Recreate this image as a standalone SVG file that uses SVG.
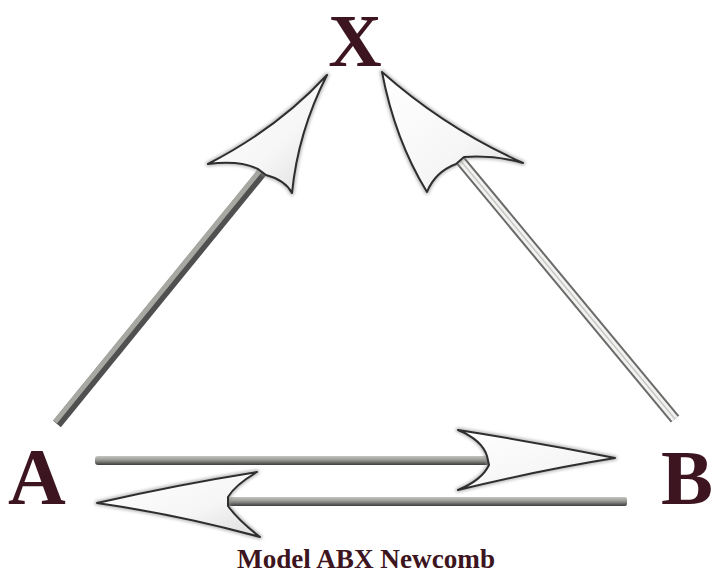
<svg xmlns="http://www.w3.org/2000/svg" width="714" height="575" viewBox="0 0 714 575">
  <style>
    .lbl { font-family: "Liberation Serif", "Times New Roman", serif; font-weight: bold; fill: #3d1520; }
    .head { fill: url(#headGrad); stroke: #2e2e2e; stroke-width: 2; stroke-linejoin: round; }
    .headShadow { fill: none; stroke: #8a8a8a; stroke-width: 5; stroke-linejoin: round; opacity: 0.55; filter: url(#soft); }
  </style>
  <defs>
    <linearGradient id="headGrad" x1="0" y1="0" x2="1" y2="1">
      <stop offset="0" stop-color="#ffffff"/>
      <stop offset="0.6" stop-color="#f6f6f6"/>
      <stop offset="1" stop-color="#dcdcdc"/>
    </linearGradient>
    <linearGradient id="barGrad" x1="0" y1="0" x2="0" y2="1">
      <stop offset="0" stop-color="#c4c4c0"/>
      <stop offset="0.45" stop-color="#9a9a95"/>
      <stop offset="1" stop-color="#3c3c3c"/>
    </linearGradient>
    <filter id="soft" x="-20%" y="-20%" width="140%" height="140%">
      <feGaussianBlur stdDeviation="1.5"/>
    </filter>
  </defs>
  <rect width="714" height="575" fill="#ffffff"/>

  <g id="connectors">
    <!-- A -> X -->
    <g id="edge-A-X">
      <line x1="57" y1="424" x2="264" y2="170" stroke="#505050" stroke-width="10"/>
      <line x1="55" y1="422" x2="262" y2="168" stroke="#a8a8a3" stroke-width="5"/>
      <path class="headShadow" d="M327,75 Q278,128 208,164 Q240,160 258,169 L266,175 Q285,180 292,193 Q298,132 327,75 Z"/>
      <path class="head" d="M327,75 Q278,128 208,164 Q240,160 258,169 L266,175 Q285,180 292,193 Q298,132 327,75 Z"/>
    </g>
    <!-- B -> X -->
    <g id="edge-B-X">
      <line x1="675" y1="419" x2="460" y2="160" stroke="#6a6a6a" stroke-width="11"/>
      <line x1="675" y1="419" x2="460" y2="160" stroke="#f2f2f0" stroke-width="7"/>
      <line x1="675" y1="419" x2="460" y2="160" stroke="#c8c8c4" stroke-width="1.5"/>
      <path class="headShadow" d="M382,72 Q395,140 427,192 Q435,172 456,164 L464,157 Q495,155 523,163 Q445,128 382,72 Z"/>
      <path class="head" d="M382,72 Q395,140 427,192 Q435,172 456,164 L464,157 Q495,155 523,163 Q445,128 382,72 Z"/>
    </g>
    <!-- A -> B -->
    <g id="edge-A-B">
      <rect x="95" y="456" width="395" height="9" rx="3" fill="url(#barGrad)"/>
      <path class="headShadow" d="M615,458 Q535,442 458,430 Q482,440 487,456 L489,465 Q482,480 458,490 Q540,470 615,458 Z"/>
      <path class="head" d="M615,458 Q535,442 458,430 Q482,440 487,456 L489,465 Q482,480 458,490 Q540,470 615,458 Z"/>
    </g>
    <!-- B -> A -->
    <g id="edge-B-A">
      <rect x="227" y="497" width="400" height="9" rx="2" fill="url(#barGrad)"/>
      <path class="headShadow" d="M97,503 Q175,485 257,472 Q235,485 228,497 L228,506 Q238,520 260,537 Q180,515 97,503 Z"/>
      <path class="head" d="M97,503 Q175,485 257,472 Q235,485 228,497 L228,506 Q238,520 260,537 Q180,515 97,503 Z"/>
    </g>
  </g>

  <g id="node-X">
    <text class="lbl" x="355" y="66" font-size="74" text-anchor="middle">X</text>
  </g>
  <g id="node-A">
    <text class="lbl" x="37" y="504" font-size="80" text-anchor="middle">A</text>
  </g>
  <g id="node-B">
    <text class="lbl" x="661" y="504" font-size="78">B</text>
  </g>
  <g id="caption">
    <text class="lbl" x="237" y="568" font-size="27" textLength="258" lengthAdjust="spacingAndGlyphs">Model ABX Newcomb</text>
  </g>
</svg>
